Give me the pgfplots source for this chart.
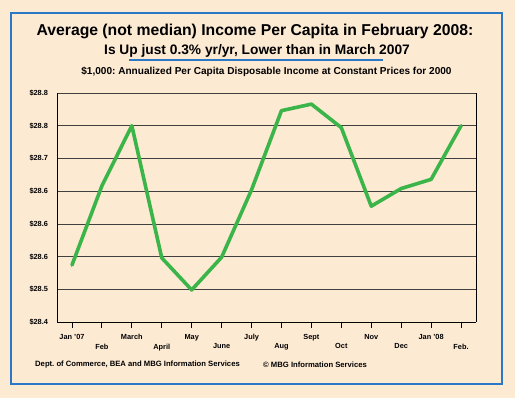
\documentclass[border=0pt]{standalone}
\usepackage{pgfplots}
\pgfplotsset{compat=1.18}
\usepackage{fontspec}
\setmainfont{Liberation Sans}
\frenchspacing
\definecolor{bg}{HTML}{FDEAD3}
\definecolor{frameblue}{HTML}{2A78C6}
\definecolor{linegreen}{HTML}{3BB54A}
\definecolor{gridc}{HTML}{404040}
\begin{document}
\begin{tikzpicture}[x=1bp,y=1bp]
\fill[bg] (0,0) rectangle (515,398);
\draw[frameblue, line width=2.2bp] (11,14) rectangle (502,385);
\node[font=\fontsize{15.8}{18}\selectfont\bfseries] at (255,366.3) {Average (not median) Income Per Capita in February 2008:};
\node[font=\fontsize{13.8}{16}\selectfont\bfseries] at (257,347.5) {Is Up just 0.3\% yr/yr, Lower than in March 2007};
\draw[frameblue, line width=1.2bp] (129,338) -- (383,338);
\node[font=\fontsize{10.1}{11}\selectfont\bfseries] at (266.5,326.3) {\$1,000: Annualized Per Capita Disposable Income at Constant Prices for 2000};
\node[font=\fontsize{7.7}{9}\selectfont\bfseries, anchor=west, inner sep=0pt] at (35,33) {Dept. of Commerce, BEA and MBG Information Services};
\node[font=\fontsize{7.7}{9}\selectfont\bfseries, anchor=west, inner sep=0pt] at (263,33) {\textcopyright\ MBG Information Services};
\begin{axis}[
  at={(57bp,76bp)}, anchor=south west,
  scale only axis, width=419bp, height=229bp,
  xmin=-0.5, xmax=13.5, ymin=28.40, ymax=28.75,
  axis x line=bottom, axis y line=left,
  axis line style={-, black, line width=0.9bp},
  xtick={0,2,4,6,8,10,12},
  xticklabels={Jan '07,March,May,July,Sept,Nov,Jan '08},
  extra x ticks={1,3,5,7,9,11,13},
  extra x tick labels={Feb,April,June,Aug,Oct,Dec,Feb.},
  xticklabel style={yshift=-3bp},
  extra x tick style={xticklabel style={yshift=-9.3bp}},
  xtick align=outside,
  x tick style={black, line width=0.8bp},
  major tick length=6bp,
  ytick={28.40,28.45,28.50,28.55,28.60,28.65,28.70,28.75},
  yticklabels={\$28.4,\$28.5,\$28.6,\$28.6,\$28.6,\$28.7,\$28.8,\$28.8},
  y tick style={draw=none},
  ymajorgrids,
  grid style={gridc, line width=0.7bp},
  tick label style={font=\fontsize{7.4}{9}\selectfont\bfseries},
  yticklabel style={xshift=-2.5bp},
  clip=false,
]
\addplot[linegreen, line width=3.6bp, line join=round, line cap=round] coordinates {
(0,28.487) (1,28.608) (2,28.700) (3,28.498) (4,28.449) (5,28.499) (6,28.602)
(7,28.723) (8,28.733) (9,28.697) (10,28.577) (11,28.604) (12,28.618) (13,28.700)
};
\draw[black, line width=0.9bp] (rel axis cs:1,0) -- (rel axis cs:1,1);
\end{axis}
\end{tikzpicture}
\end{document}
